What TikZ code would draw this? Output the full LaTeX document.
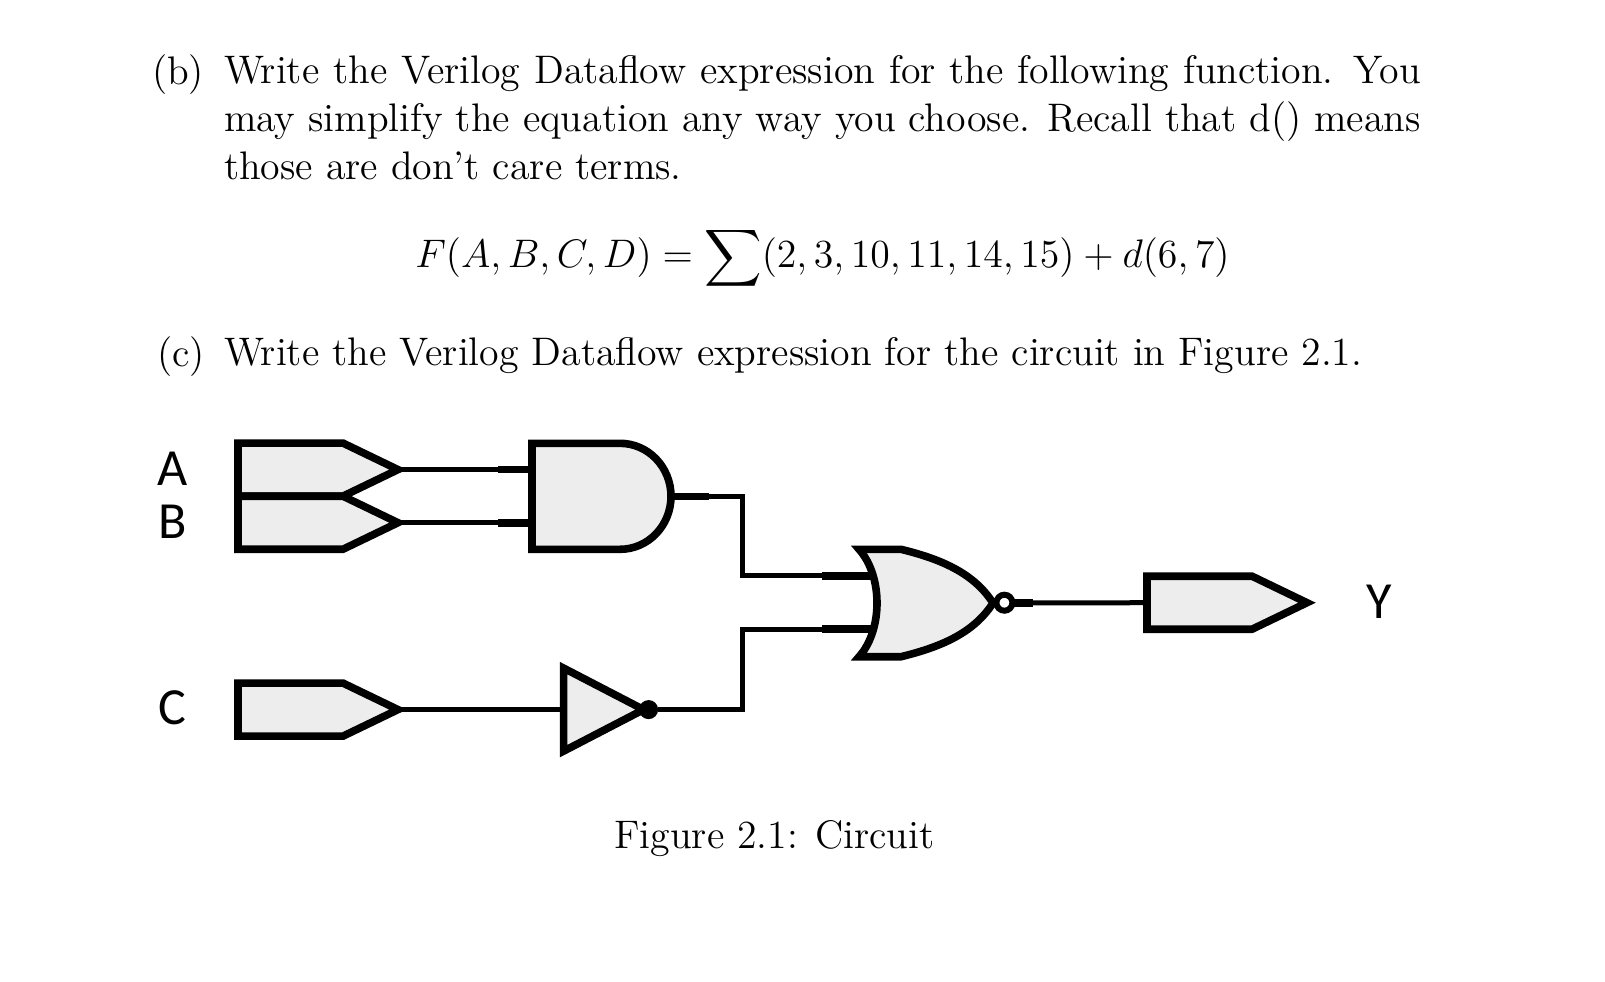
\documentclass[tikz,border=0pt]{standalone}
\usepackage{amsmath}
\usepackage{amssymb}
\usepackage{fontspec}
\newfontfamily\labelfont{Carlito}
\usetikzlibrary{shapes,shapes.geometric,shapes.symbols,positioning,calc}
\newcommand{\px}{0.3012pt}
\definecolor{gatefill}{HTML}{EDEDED}
\tikzset{
port/.style = {signal, signal to=east, signal pointer angle=51.5, draw, fill=gatefill, line width=7.6*\px, miter limit=10, inner sep=0pt, outer sep=0pt, minimum width=160*\px, minimum height=53*\px, anchor=west},
gatebox/.style = {rectangle, inner sep=0pt, outer sep=0pt},
gatebody/.style = {draw, fill=gatefill, line width=7.6*\px, miter limit=10},
inverter/.style = {isosceles triangle, isosceles triangle stretches, shape border rotate=0, draw, fill=gatefill, line width=7.6*\px, miter limit=10, inner sep=0pt, outer sep=0pt, minimum width=83*\px, minimum height=80*\px, anchor=west},
bubble/.style = {circle, draw, inner sep=0pt, outer sep=0pt},
tmp/.style = {coordinate},
wire/.style = {line width=5*\px},
stub/.style = {line width=7.6*\px},
body/.style = {font=\fontsize{12}{14.45}\selectfont, inner sep=0pt, outer sep=0pt},
pinlabel/.style = {font=\labelfont\fontsize{15.7}{18}\selectfont, inner sep=0pt}
}
\begin{document}
\begin{tikzpicture}[x=\px,y=-\px]
  \useasboundingbox (0,0) rectangle (1605,981);

  \node [body, anchor=north west]                 (partb)   at (152,55)    {(b)};
  \node [body, anchor=north west, text width=360.5pt, align=justify] (textb) at (224,55)
    {Write the Verilog Dataflow expression for the following function. You may simplify the equation any way you choose. Recall that d() means those are don’t care terms.};
  \node [body]                                    (eqn)     at (822.5,258) {$\displaystyle F(A,B,C,D) = \sum(2,3,10,11,14,15) + d(6,7)$};
  \node [body, anchor=north west]                 (partc)   at (157,337)   {(c)};
  \node [body, anchor=north west]                 (textc)   at (224,337)   {Write the Verilog Dataflow expression for the circuit in Figure 2.1.};
  \node [body]                                    (caption) at (774.5,839) {Figure 2.1: Circuit};

  \node [pinlabel] (labela) at (172.5,469)  {A};
  \node [pinlabel] (labelb) at (172.5,521.7) {B};
  \node [pinlabel] (labelc) at (172.5,708)  {C};
  \node [pinlabel] (labely) at (1379.5,601.7) {Y};

  \node [port]       (porta)   at (238,469.6)  {};
  \node [port]       (portb)   at (238,522.7)  {};
  \node [port]       (portc)   at (238,709.6)  {};
  \node [port]       (porty)   at (1147,602.7) {};
  \node [gatebox, minimum width=139*\px, minimum height=106*\px] (andgate) at (601.5,496.3) {};
  \node [gatebox, minimum width=134*\px, minimum height=107.4*\px] (orgate) at (926,603) {};
  \node [inverter]   (notgate) at (563.6,709.6) {};
  \node [bubble, fill=black, minimum size=18*\px, line width=1*\px, right=-4*\px of notgate.east] (notdot) {};

  \node [tmp] (anda)  at (andgate.west |- porta.east) {};
  \node [tmp] (andb)  at (andgate.west |- portb.east) {};
  \node [tmp] (tmp1)  at (742,496.3) {};
  \node [tmp] (tmp2)  at (742,575.7) {};
  \node [tmp] (tmp3)  at (742,629)   {};
  \node [tmp] (tmp4)  at (742,709.6) {};
  \node [tmp] (ora)   at (872,575.7) {};
  \node [tmp] (orb)   at (872,629)   {};

  \draw [wire] (porta.east) -- (anda);
  \draw [wire] (portb.east) -- (andb);
  \draw [stub] ($(anda)+(-34,0)$) -- (anda);
  \draw [stub] ($(andb)+(-34,0)$) -- (andb);
  \draw [wire] (andgate.east) -- (tmp1) -- (tmp2) -- (ora);
  \draw [stub] (andgate.east) -- ++(38,0);
  \draw [stub] ($(ora)+(-50,0)$) -- (ora);
  \draw [wire] (portc.east) -- (notgate.west);
  \draw [wire] (notdot) -- (tmp4) -- (tmp3) -- (orb);
  \draw [stub] ($(orb)+(-50,0)$) -- (orb);
  \draw [wire] (orgate.east) -- (porty.west);
  \draw [stub] (orgate.east) -- ++(40,0);

  \draw [gatebody] ($(andgate.north west)+(-4,0)$) -- ($(andgate.north west)+(88,0)$)
    arc [start angle=-90, end angle=90, x radius=51, y radius=53] -- ($(andgate.south west)+(-4,0)$)
    -- (andgate.south west) -- (andgate.north west);
  \draw [gatebody] (orgate.north west) -- ++(42,0)
    .. controls (945,560) and (975,575) .. (orgate.east)
    .. controls (975,631) and (945,646) .. (901,656.7)
    -- (orgate.south west)
    .. controls (883,630) and (883,576) .. (orgate.north west) -- cycle;
  \node [bubble, fill=white, line width=6*\px, minimum size=16*\px] (orbub) at (1004.4,602.7) {};
\end{tikzpicture}
\end{document}
